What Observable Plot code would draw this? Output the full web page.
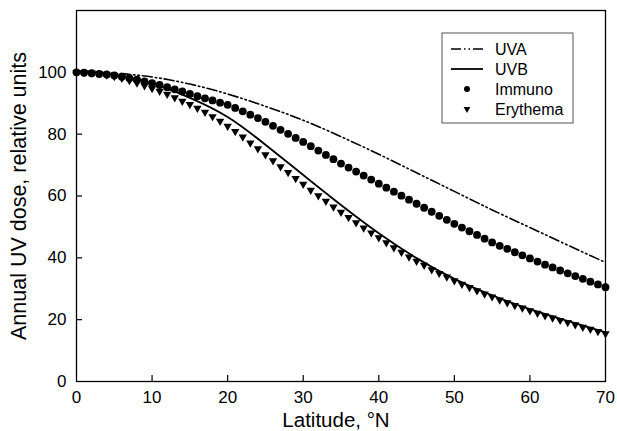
<!DOCTYPE html>
<html>
<head>
<meta charset="utf-8">
<script src="https://cdn.jsdelivr.net/npm/d3@7"></script>
<script src="https://cdn.jsdelivr.net/npm/@observablehq/plot@0.6"></script>
<style>
  html, body { margin: 0; padding: 0; background: #fff; }
  #chart svg { display: block; }
</style>
</head>
<body>
<div id="chart"></div>
<script>
// Latitude grid for the line series (every 5 degrees)
const latLine = [0, 5, 10, 15, 20, 25, 30, 35, 40, 45, 50, 55, 60, 65, 70];
const uva = [100, 99.7, 98.5, 96.2, 93, 89, 84.5, 79.2, 73.5, 67.5, 61.5, 55.5, 49.8, 44.1, 38.5];
const uvb = [100, 99.25, 96.4, 91.75, 85.55, 76.6, 66.8, 57.1, 47.95, 39.9, 33.2, 27.9, 23.4, 19.6, 15.9];

// Latitude grid for the marker series (every degree)
const latPts = d3.range(0, 71, 1);
const immuno = [100.0, 99.9, 99.7, 99.5, 99.3, 99.0, 98.6, 98.1, 97.6, 97.1,
  96.5, 95.9, 95.2, 94.5, 93.8, 93.0, 92.3, 91.6, 90.9, 90.2,
  89.5, 88.5, 87.4, 86.3, 85.2, 84.0, 82.7, 81.4, 80.1, 78.8,
  77.5, 76.1, 74.7, 73.3, 71.9, 70.5, 69.2, 67.9, 66.6, 65.3,
  64.0, 62.7, 61.4, 60.1, 58.8, 57.5, 56.2, 54.9, 53.6, 52.3,
  51.0, 49.8, 48.6, 47.4, 46.2, 45.0, 43.9, 42.9, 41.8, 40.8,
  39.8, 38.8, 37.8, 36.9, 35.9, 35.0, 34.1, 33.2, 32.3, 31.4, 30.5];
const erythema = [100.0, 99.9, 99.8, 99.6, 99.2, 98.7, 98.1, 97.4, 96.6, 95.7,
  94.8, 93.9, 92.9, 91.8, 90.7, 89.6, 88.4, 87.1, 85.7, 84.2,
  82.6, 80.9, 79.1, 77.2, 75.3, 73.4, 71.4, 69.5, 67.6, 65.7,
  63.8, 61.9, 60.1, 58.3, 56.5, 54.8, 53.1, 51.4, 49.7, 48.1,
  46.5, 44.9, 43.3, 41.8, 40.3, 38.9, 37.6, 36.2, 35.0, 33.8,
  32.6, 31.5, 30.4, 29.4, 28.3, 27.4, 26.4, 25.5, 24.6, 23.8,
  22.9, 22.1, 21.3, 20.6, 19.8, 19.1, 18.4, 17.6, 16.9, 16.2, 15.5];

const xTicks = [0, 10, 20, 30, 40, 50, 60, 70];
const yTicks = [0, 20, 40, 60, 80, 100];
const xLabel = "Latitude, °N";
const yLabel = "Annual UV dose, relative units";
const seriesNames = ["UVA", "UVB", "Immuno", "Erythema"];

const uvaData = latLine.map((x, i) => ({x, y: uva[i]}));
const uvbData = latLine.map((x, i) => ({x, y: uvb[i]}));
const immunoData = latPts.map((x, i) => ({x, y: immuno[i]}));
const erythemaData = latPts.map((x, i) => ({x, y: erythema[i]}));

const FONT = "'Liberation Sans', Arial, Helvetica, sans-serif";
const uvaDash = "10,3,1.5,3,1.5,3";

const chart = Plot.plot({
  width: 617,
  height: 431,
  marginLeft: 76,
  marginRight: 12,
  marginTop: 10,
  marginBottom: 50,
  style: {fontFamily: FONT, fontSize: "17px", color: "black", background: "white"},
  x: {domain: [0, 70]},
  y: {domain: [0, 120]},
  marks: [
    Plot.axisX({ticks: xTicks, tickSize: 0, tickPadding: 9.5, label: null, fontSize: 17}),
    Plot.axisY({ticks: yTicks, tickSize: 0, tickPadding: 10, label: null, fontSize: 17}),
    Plot.ruleX(xTicks.slice(1, -1), {x: d => d, y1: 0, y2: 0, insetTop: -6, stroke: "black", strokeWidth: 1.2}),
    Plot.ruleY(yTicks.slice(1), {y: d => d, x1: 0, x2: 0, insetRight: -6, stroke: "black", strokeWidth: 1.2}),
    Plot.line(uvaData, {x: "x", y: "y", curve: "natural", stroke: "black", strokeWidth: 1.6, strokeDasharray: uvaDash}),
    Plot.line(uvbData, {x: "x", y: "y", curve: "natural", stroke: "black", strokeWidth: 1.8}),
    Plot.dot(immunoData, {x: "x", y: "y", r: 3.9, fill: "black", stroke: "none"}),
    Plot.dot(erythemaData, {x: "x", y: "y", r: 3.1, symbol: "triangle", rotate: 180, fill: "black", stroke: "none"}),
    Plot.text([xLabel], {text: d => d, frameAnchor: "bottom", lineAnchor: "middle", textAnchor: "middle", dx: -5, dy: 39, fontSize: 20.5, fill: "black"}),
    Plot.text([yLabel], {text: d => d, frameAnchor: "left", lineAnchor: "middle", textAnchor: "middle", dx: -57, rotate: -90, fontSize: 21.5, fill: "black"}),
    Plot.frame({stroke: "black", strokeWidth: 1.3})
  ]
});

document.getElementById("chart").appendChild(chart);

// Legend box (inside the plot, top right)
const svg = d3.select(chart);
const lg = svg.append("g").attr("font-family", FONT).attr("font-size", 16).attr("text-anchor", "start");
lg.append("rect").attr("x", 442).attr("y", 33).attr("width", 131).attr("height", 90)
  .attr("fill", "white").attr("stroke", "#555").attr("stroke-width", 1);
seriesNames.forEach((name, i) => {
  const cy = 49 + i * 20;
  if (name === "UVA") {
    lg.append("line").attr("x1", 451).attr("x2", 483).attr("y1", cy).attr("y2", cy)
      .attr("stroke", "black").attr("stroke-width", 1.6).attr("stroke-dasharray", uvaDash);
  } else if (name === "UVB") {
    lg.append("line").attr("x1", 451).attr("x2", 483).attr("y1", cy).attr("y2", cy)
      .attr("stroke", "black").attr("stroke-width", 1.8);
  } else if (name === "Immuno") {
    lg.append("circle").attr("cx", 467).attr("cy", cy).attr("r", 3).attr("fill", "black");
  } else {
    lg.append("path").attr("d", d3.symbol(d3.symbolTriangle, 20)())
      .attr("transform", `translate(467,${cy}) rotate(180)`).attr("fill", "black");
  }
  lg.append("text").attr("x", 495).attr("y", cy).attr("dy", "0.35em").attr("text-anchor", "start")
    .attr("fill", "black").text(name);
});
</script>
</body>
</html>
